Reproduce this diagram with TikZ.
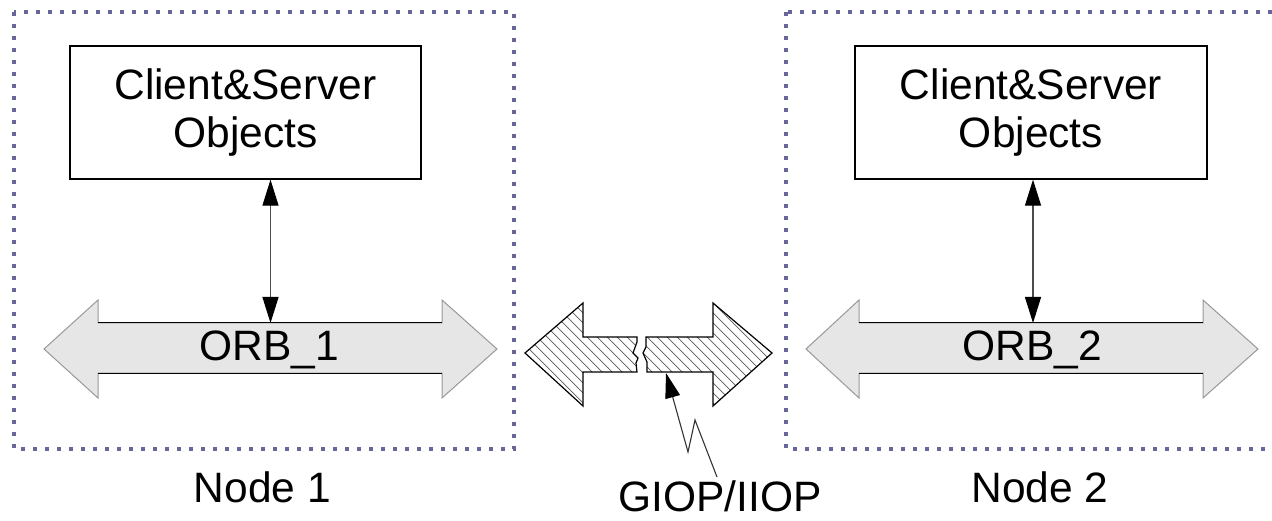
\documentclass[tikz,border=0pt]{standalone}
\usepackage{fontspec}
\setmainfont{Liberation Sans}
\usetikzlibrary{arrows.meta}
\definecolor{framecol}{HTML}{66669A}
\definecolor{orbfill}{HTML}{E6E6E6}

% outline of the two halves of the broken GIOP/IIOP arrow
\def\brokenleft{(525,353) -- (583,303) -- (583,337) -- (637,337) -- (637,342) -- (633,353) -- (638,358) -- (636,363) -- (637,372) -- (583,372) -- (583,406) -- cycle}
\def\brokenright{(646,337) -- (713,337) -- (713,303) -- (772,353) -- (713,406) -- (713,372) -- (647,372) -- (647,362) -- (643,353) -- (646,347) -- cycle}

\begin{document}
\begin{tikzpicture}[x=1pt,y=-1pt,
  every node/.style={font=\fontsize{42.5}{48}\selectfont, inner sep=0pt},
  hostframe/.style={draw=framecol, line width=4pt, dash pattern=on 4pt off 8pt},
  objbox/.style={draw=black, line width=1.3pt, align=center,
    minimum width=351pt, minimum height=133pt},
  orbbody/.style={fill=orbfill, draw=black!40, line width=1pt, line join=miter},
  orbedge/.style={draw=black, line width=1pt},
  link/.style={draw=black!70, line width=1.2pt,
    {Triangle[length=26pt,width=16pt,color=black]}-{Triangle[length=26pt,width=16pt,color=black]}},
  hatchline/.style={draw=black!65, line width=0.7pt},
  hatchedge/.style={draw=black, line width=1.2pt, line join=miter},
  bolt/.style={draw=black!80, line width=1.1pt, line join=miter,
    -{Triangle[length=25pt,width=15pt,color=black]}},
]
\clip (0,0) rectangle (1272,521);

% host frames
\draw[hostframe] (14,12) rectangle (514,449);
\draw[hostframe] (786,12) rectangle (1300,449);

% object boxes
\node[objbox] (obj1) at (245.5,112.5) {Client\&Server\\Objects};
\node[objbox, minimum width=352pt] (obj2) at (1031,112.5) {Client\&Server\\Objects};

% ORB bus arrows
\path[orbbody] (44,349) -- (98,300) -- (98,323) -- (442,323) -- (442,300) -- (497,349)
  -- (442,398) -- (442,373) -- (98,373) -- (98,398) -- cycle;
\draw[orbedge] (98,323) -- (442,323) (98,373) -- (442,373);
\path[orbbody] (806,349) -- (859,300) -- (859,323) -- (1203,323) -- (1203,300) -- (1258,349)
  -- (1203,398) -- (1203,373) -- (859,373) -- (859,398) -- cycle;
\draw[orbedge] (859,323) -- (1203,323) (859,373) -- (1203,373);
\node[anchor=base] (orb1) at (269.5,360) {ORB\_1};
\node[anchor=base] (orb2) at (1032,360) {ORB\_2};

% attachment points on the buses
\coordinate (bus1) at (270.5,323);
\coordinate (bus2) at (1033,323);
\draw[link] (obj1.south -| bus1) -- (bus1);
\draw[link] (obj2.south -| bus2) -- (bus2);

% broken, hatched GIOP/IIOP arrow
\begin{scope}
  \clip \brokenleft;
  \foreach \c in {390,400,...,770} \draw[hatchline] (\c,280) -- ++(140,140);
\end{scope}
\begin{scope}
  \clip \brokenright;
  \foreach \c in {390,400,...,770} \draw[hatchline] (\c,280) -- ++(140,140);
\end{scope}
\draw[hatchedge] \brokenleft;
\draw[hatchedge] \brokenright;
\coordinate (brk) at (666,373);

% labels
\node[anchor=base] (n1) at (262.5,502) {Node 1};
\node[anchor=base] (n2) at (1040,502) {Node 2};
\node[anchor=base] (giop) at (720,511) {GIOP/IIOP};

% lightning connector to the break
\draw[bolt] ([xshift=-3pt,yshift=3pt]giop.north) -- (695,420) -- (688,452) -- (brk);
\end{tikzpicture}
\end{document}
